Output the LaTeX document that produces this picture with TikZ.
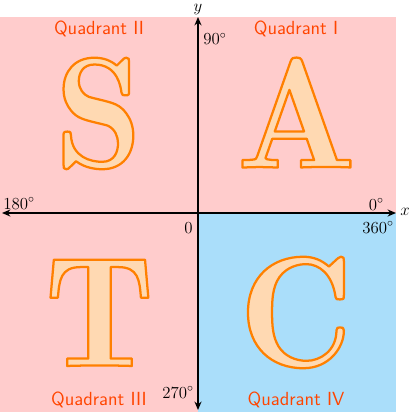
\documentclass[tikz,border=0pt]{standalone}
\usepackage{xcolor}
\usepackage{tikz}
\usetikzlibrary{arrows.meta}
\definecolor{quadpink}{RGB}{255,204,204}
\definecolor{quadblue}{RGB}{170,222,250}
\definecolor{quadred}{RGB}{255,69,0}
% outlined letter: fill and stroke text render mode (xdvipdfmx)
\newcommand{\astcletter}[1]{%
  \special{pdf:bcolor [1 0.85 0.7] [1 0.5 0]}%
  \special{pdf:code q 2 Tr 1.6 w 1 j}#1\special{pdf:code Q}%
  \special{pdf:ecolor}}

\begin{document}
\begin{tikzpicture}[
    x=0.025cm, y=-0.025cm,
    axis/.style={line width=0.9pt, {Stealth[length=6pt,width=5pt]}-{Stealth[length=6pt,width=5pt]}},
    quadlabel/.style={font=\fontsize{13.5}{16}\selectfont\sffamily, text=quadred, anchor=base},
    anglabel/.style={font=\fontsize{11.5}{14}\selectfont, inner sep=0pt},
    bigletter/.style={font=\fontsize{112}{112}\fontseries{b}\selectfont, anchor=base, inner sep=0pt, text depth=0pt},
]
\useasboundingbox (0,0) rectangle (411,412);

% quadrants
\fill[quadpink] (0,17) rectangle (396,412);
\fill[quadblue] (198,213) rectangle (396,412);

% axes
\coordinate (xl) at (2,213);
\coordinate (xr) at (396,213);
\coordinate (yt) at (198,17);
\coordinate (yb) at (198,410);
\draw[axis] (xl) -- (xr);
\draw[axis] (yb) -- (yt);
\node[anglabel] (xlab) at (405,212) {$x$};
\node[anglabel] (ylab) at (198,9.5) {$y$};

% angles
\node[anglabel, anchor=base west] (a90) at (203,45) {$90^\circ$};
\node[anglabel, anchor=base west] (a180) at (3,209) {$180^\circ$};
\node[anglabel, anchor=base east] (a0) at (384,210) {$0^\circ$};
\node[anglabel, anchor=base east] (a360) at (394,233) {$360^\circ$};
\node[anglabel, anchor=base east] (a270) at (194,398) {$270^\circ$};
\node[anglabel, anchor=base east] (orig) at (193,233) {$0$};

% quadrant names
\node[quadlabel] (q2) at (99,34.5) {Quadrant II};
\node[quadlabel] (q1) at (296,34.5) {Quadrant I};
\node[quadlabel] (q3) at (99,405) {Quadrant III};
\node[quadlabel] (q4) at (296,405) {Quadrant IV};

% letters
\node[bigletter] (ls) at (98.5,167.5) {\astcletter{S}};
\node[bigletter] (la) at (296.5,167.5) {\astcletter{A}};
\node[bigletter] (lt) at (99.5,366) {\astcletter{T}};
\node[bigletter] (lc) at (296,366.5) {\astcletter{C}};
\end{tikzpicture}
\end{document}
